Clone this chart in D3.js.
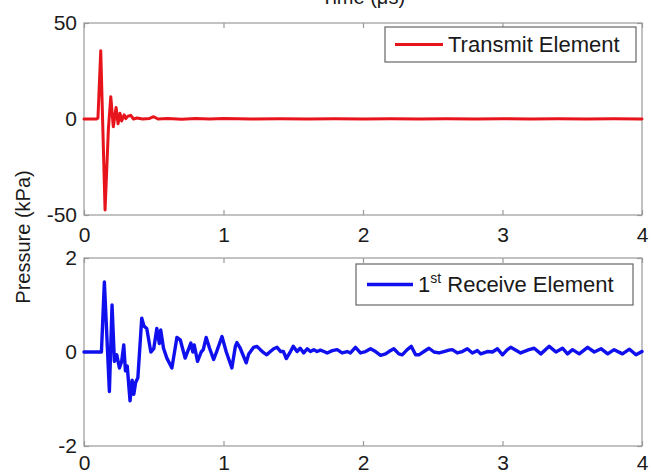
<!DOCTYPE html>
<html>
<head>
<meta charset="utf-8">
<script src="https://cdn.jsdelivr.net/npm/d3@7"></script>
<style>
  body { margin: 0; background: #fff; }
  svg { display: block; }
  text { font-family: "Liberation Sans", Arial, Helvetica, sans-serif; fill: #1a1a1a; }
</style>
</head>
<body>
<svg id="chart" width="651" height="474"></svg>
<script>
// ---- Data ----
const xTickValues = [0, 1, 2, 3, 4];
const topYTicks = [-50, 0, 50];
const bottomYTicks = [-2, 0, 2];
const seriesNames = ["Transmit Element", "Receive Element"];

const transmitTime = [0, 0.09, 0.1, 0.12, 0.151, 0.175, 0.192, 0.21, 0.23, 0.244, 0.258, 0.27, 0.288, 0.3, 0.315, 0.335, 0.355, 0.38, 0.42, 0.47, 0.5, 0.53, 0.6, 0.7, 0.8, 0.9, 1.0, 1.2, 1.4, 1.6, 1.8, 2.0, 2.2, 2.4, 2.6, 2.8, 3.0, 3.2, 3.4, 3.6, 3.8, 4.0];
const transmitPressure = [0, 0, 0.5, 35.5, -47.4, -5, 11.6, -4, 6, -2.5, 3, -1, 2.2, 0.2, 1.5, 1.9, 0, 0.5, 0, 0.3, 1.2, 0, 0.2, -0.1, 0.2, 0, 0.2, 0, 0.1, 0, 0.1, 0, 0.1, 0, 0.1, 0, 0.1, 0, 0.1, 0, 0.1, 0];

const receiveTime = [0, 0.125, 0.146, 0.182, 0.201, 0.218, 0.235, 0.254, 0.27, 0.285, 0.297, 0.31, 0.33, 0.345, 0.357, 0.37, 0.386, 0.414, 0.43, 0.45, 0.479, 0.5, 0.522, 0.54, 0.55, 0.57, 0.594, 0.63, 0.666, 0.69, 0.725, 0.766, 0.78, 0.79, 0.814, 0.84, 0.855, 0.876, 0.9, 0.929, 0.95, 0.989, 1.02, 1.06, 1.085, 1.096, 1.12, 1.163, 1.18, 1.216, 1.24, 1.264, 1.29, 1.31, 1.336, 1.36, 1.384, 1.41, 1.43, 1.45, 1.48, 1.5, 1.527, 1.55, 1.575, 1.6, 1.623, 1.647, 1.67, 1.695, 1.72, 1.743, 1.78, 1.815, 1.85, 1.887, 1.91, 1.946, 1.982, 2.018, 2.054, 2.09, 2.126, 2.162, 2.186, 2.221, 2.257, 2.281, 2.317, 2.346, 2.377, 2.401, 2.437, 2.473, 2.509, 2.545, 2.58, 2.616, 2.64, 2.676, 2.712, 2.748, 2.784, 2.82, 2.844, 2.892, 2.928, 2.964, 3.0, 3.035, 3.059, 3.13, 3.19, 3.227, 3.275, 3.335, 3.383, 3.43, 3.466, 3.502, 3.55, 3.61, 3.658, 3.706, 3.754, 3.8, 3.86, 3.91, 3.957, 4.0];
const receivePressure = [0, 0, 1.49, -0.84, 1.0, -0.2, -0.06, -0.34, -0.2, 0.15, -0.4, -0.3, -1.04, -0.6, -0.9, -0.65, -0.55, 0.72, 0.55, 0.5, 0.0, 0.07, 0.5, 0.18, 0.47, 0.08, -0.13, -0.34, 0.31, 0.26, -0.13, 0.19, 0.0, 0.15, -0.2, 0.0, 0.05, 0.31, 0.08, -0.16, 0.0, 0.33, 0.0, -0.34, 0.12, 0.2, 0.08, -0.23, -0.05, 0.1, 0.12, 0.05, -0.02, -0.06, 0.01, 0.07, 0.1, 0.01, 0.01, -0.14, 0.01, 0.12, 0.01, 0.08, -0.02, 0.07, 0.01, 0.05, 0.01, 0.04, 0.01, -0.02, 0.03, 0.05, -0.02, 0.01, -0.02, 0.1, -0.02, 0.01, 0.07, 0.01, -0.07, -0.04, 0.01, 0.07, -0.04, -0.06, 0.05, 0.12, -0.06, -0.06, 0.01, 0.08, 0.0, -0.02, 0.01, 0.04, 0.05, -0.02, 0.01, 0.07, -0.02, 0.03, -0.04, 0.01, 0.0, 0.07, -0.06, 0.05, 0.1, -0.02, 0.05, 0.08, -0.04, 0.12, 0.0, 0.08, -0.04, 0.05, -0.04, 0.1, 0.0, 0.07, -0.04, 0.05, -0.04, 0.06, -0.06, 0.01];

// ---- Layout ----
const svg = d3.select("#chart");
const frameColor = "#9a9a9a";
const left = 84, right = 642;
const x = d3.scaleLinear().domain([0, 4]).range([left, right]);
const yTop = d3.scaleLinear().domain([-50, 50]).range([215, 23]);
const yBot = d3.scaleLinear().domain([-2, 2]).range([446, 258]);
const fmt = d => String(d);

function drawPanel(y, yTicks, times, values, color, width, xPad) {
  const g = svg.append("g");
  const [yb, yt] = y.range();
  g.append("rect").attr("x", left).attr("y", yt).attr("width", right - left).attr("height", yb - yt)
    .attr("fill", "#fff").attr("stroke", frameColor).attr("stroke-width", 1.2);
  const bx = g.append("g").attr("transform", `translate(0,${yb})`)
    .call(d3.axisBottom(x).tickValues(xTickValues).tickFormat(fmt).tickSizeInner(-5).tickSizeOuter(0).tickPadding(xPad));
  const tx = g.append("g").attr("transform", `translate(0,${yt})`)
    .call(d3.axisTop(x).tickValues(xTickValues).tickFormat("").tickSizeInner(-5).tickSizeOuter(0));
  const ly = g.append("g").attr("transform", `translate(${left},0)`)
    .call(d3.axisLeft(y).tickValues(yTicks).tickFormat(fmt).tickSizeInner(-5).tickSizeOuter(0).tickPadding(7));
  const ry = g.append("g").attr("transform", `translate(${right},0)`)
    .call(d3.axisRight(y).tickValues(yTicks).tickFormat("").tickSizeInner(-5).tickSizeOuter(0));
  [bx, tx, ly, ry].forEach(a => {
    a.select(".domain").remove();
    a.selectAll(".tick line").attr("stroke", frameColor).attr("stroke-width", 1.2);
    a.selectAll("text").attr("font-size", 21).attr("fill", "#1a1a1a")
      .style("font-family", '"Liberation Sans", Arial, sans-serif');
  });
  const pts = times.map((t, i) => [t, values[i]]);
  g.append("path").datum(pts)
    .attr("fill", "none").attr("stroke", color).attr("stroke-width", width)
    .attr("stroke-linejoin", "round").attr("stroke-linecap", "round")
    .attr("d", d3.line().x(d => x(d[0])).y(d => y(d[1])));
  return g;
}

drawPanel(yTop, topYTicks, transmitTime, transmitPressure, "#e8141c", 3, 12);
drawPanel(yBot, bottomYTicks, receiveTime, receivePressure, "#1010ee", 3.4, 9);

// ---- Legends ----
function legend(x0, y0, w, h, color, lw, lineX1, lineX2, textX, build) {
  const g = svg.append("g");
  g.append("rect").attr("x", x0).attr("y", y0).attr("width", w).attr("height", h)
    .attr("fill", "#fff").attr("stroke", "#666").attr("stroke-width", 1.2);
  const cy = y0 + h / 2;
  g.append("line").attr("x1", lineX1).attr("x2", lineX2).attr("y1", cy).attr("y2", cy)
    .attr("stroke", color).attr("stroke-width", lw);
  const t = g.append("text").attr("x", textX).attr("y", cy + 7.5).attr("font-size", 22);
  build(t);
}
legend(385, 27, 251, 35, "#e8141c", 3, 395, 443, 448, t => t.text(seriesNames[0]));
legend(356, 264, 277, 41, "#1010ee", 3.4, 367, 413, 418, t => {
  t.append("tspan").text("1");
  t.append("tspan").attr("font-size", 14).attr("dy", -9).text("st");
  t.append("tspan").attr("dy", 9).text(" " + seriesNames[1]);
});

// ---- Axis titles ----
svg.append("text").attr("x", (left + right) / 2).attr("y", 4).attr("text-anchor", "middle")
  .attr("font-size", 20).text("Time (μs)");
svg.append("text").attr("transform", "translate(30,237) rotate(-90)").attr("text-anchor", "middle")
  .attr("font-size", 20).text("Pressure (kPa)");
</script>
</body>
</html>
